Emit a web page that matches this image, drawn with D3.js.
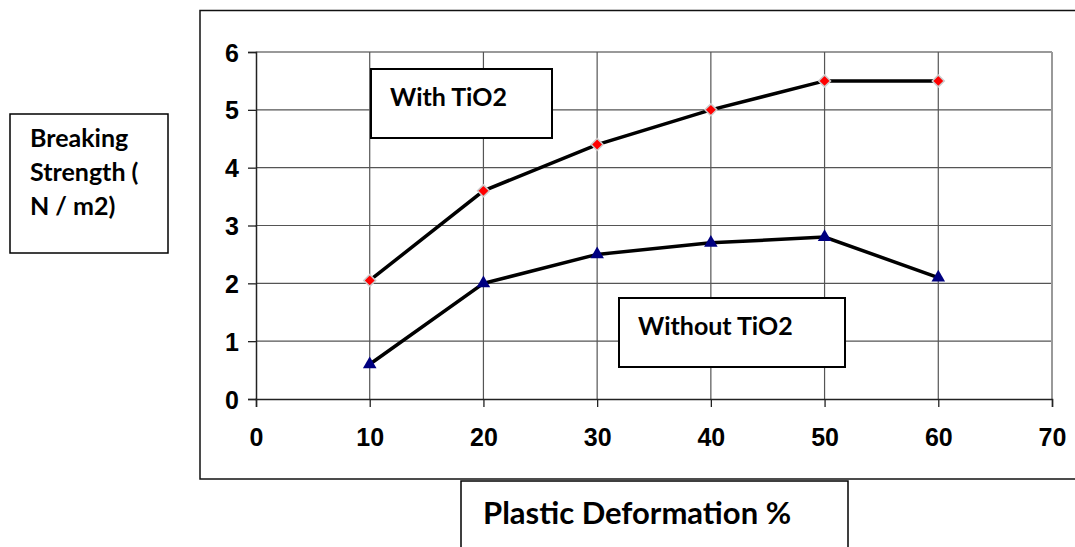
<!DOCTYPE html>
<html lang="en">
<head>
    <meta charset="UTF-8">
    <title>Breaking Strength vs Plastic Deformation</title>
    <style>
        body { margin: 0; background: #fff; }
        .tick text { font-family: "Liberation Sans", Arial, sans-serif; font-weight: bold; font-size: 25px; fill: #000; }
        .box-label { font-family: Lato, "Open Sans", sans-serif; font-weight: bold; fill: #000; }
    </style>
</head>
<body>
    <svg width="1075" height="547"></svg>

    <script src="https://d3js.org/d3.v7.min.js"></script>
    <script>
        // Data
        const xValues = [10, 20, 30, 40, 50, 60];
        const withTiO2 = [2.05, 3.6, 4.4, 5.0, 5.5, 5.5];
        const withoutTiO2 = [0.6, 2.0, 2.5, 2.7, 2.8, 2.1];
        const xTicks = [0, 10, 20, 30, 40, 50, 60, 70];
        const yTicks = [0, 1, 2, 3, 4, 5, 6];
        const withLabel = 'With TiO2';
        const withoutLabel = 'Without TiO2';
        const yLabelLines = ['Breaking', 'Strength (', 'N / m2)'];
        const xLabel = 'Plastic Deformation %';

        const svg = d3.select('svg');

        const xScale = d3.scaleLinear().domain([0, 70]).range([256, 1052]);
        const yScale = d3.scaleLinear().domain([0, 6]).range([399, 52]);

        // outer chart frame (runs off the right edge)
        svg.append('rect')
            .attr('x', 200).attr('y', 10.5)
            .attr('width', 900).attr('height', 468.5)
            .attr('fill', 'none').attr('stroke', '#111').attr('stroke-width', 1.5);

        // gridlines
        const grid = svg.append('g');
        grid.selectAll('line.h')
            .data(yTicks.filter(d => d > 0))
            .enter().append('line')
            .attr('x1', xScale(0)).attr('x2', xScale(70))
            .attr('y1', d => yScale(d)).attr('y2', d => yScale(d))
            .attr('stroke', d => d === 6 ? '#999' : '#555')
            .attr('stroke-width', d => d === 6 ? 2 : 1.2);
        grid.selectAll('line.v')
            .data(xTicks.filter(d => d > 0))
            .enter().append('line')
            .attr('y1', yScale(0)).attr('y2', yScale(6))
            .attr('x1', d => xScale(d)).attr('x2', d => xScale(d))
            .attr('stroke', d => d === 70 ? '#999' : '#555')
            .attr('stroke-width', d => d === 70 ? 2 : 1.2);

        // axes
        const yAxis = d3.axisLeft(yScale).tickValues(yTicks).tickFormat(d3.format('d')).tickSize(8).tickPadding(9);
        const xAxis = d3.axisBottom(xScale).tickValues(xTicks).tickFormat(d3.format('d')).tickSize(8).tickPadding(21);

        const yAxisG = svg.append('g').attr('transform', 'translate(' + xScale(0) + ',0)').call(yAxis);
        const xAxisG = svg.append('g').attr('transform', 'translate(0,' + yScale(0) + ')').call(xAxis);

        yAxisG.select('.domain').attr('stroke', '#222').attr('stroke-width', 1.5);
        xAxisG.select('.domain').attr('stroke', '#222').attr('stroke-width', 1.5);
        svg.selectAll('.tick line').attr('stroke', '#222').attr('stroke-width', 1.3);
        yAxisG.selectAll('.tick text').attr('dy', '0.36em');

        // label boxes inside the plot
        function labelBox(x, y, w, h, text, size, tx, ty) {
            svg.append('rect')
                .attr('x', x).attr('y', y).attr('width', w).attr('height', h)
                .attr('fill', '#fff').attr('stroke', '#000').attr('stroke-width', 2);
            svg.append('text')
                .attr('class', 'box-label')
                .attr('x', tx).attr('y', ty)
                .style('font-size', size + 'px')
                .text(text);
        }

        labelBox(371, 69, 181, 69, withLabel, 25, 390, 106);
        labelBox(619, 298, 226, 69, withoutLabel, 25, 638, 335);

        // lines
        const line = d3.line()
            .x((d, i) => xScale(xValues[i]))
            .y(d => yScale(d));

        svg.append('path')
            .datum(withTiO2)
            .attr('d', line)
            .attr('fill', 'none').attr('stroke', '#000').attr('stroke-width', 3.5);
        svg.append('path')
            .datum(withoutTiO2)
            .attr('d', line)
            .attr('fill', 'none').attr('stroke', '#000').attr('stroke-width', 3.5);

        // markers
        svg.selectAll('path.diamond')
            .data(withTiO2)
            .enter().append('path')
            .attr('class', 'diamond')
            .attr('d', d3.symbol().type(d3.symbolDiamond2).size(90))
            .attr('transform', (d, i) => 'translate(' + xScale(xValues[i]) + ',' + yScale(d) + ')')
            .attr('fill', '#ff0000').attr('stroke', '#ccc').attr('stroke-width', 1.5);

        svg.selectAll('path.tri')
            .data(withoutTiO2)
            .enter().append('path')
            .attr('class', 'tri')
            .attr('d', d3.symbol().type(d3.symbolTriangle).size(80))
            .attr('transform', (d, i) => 'translate(' + xScale(xValues[i]) + ',' + yScale(d) + ')')
            .attr('fill', '#000080');

        // y axis title box
        svg.append('rect')
            .attr('x', 10).attr('y', 114).attr('width', 158).attr('height', 139)
            .attr('fill', '#fff').attr('stroke', '#000').attr('stroke-width', 1.5);
        svg.append('text')
            .attr('class', 'box-label')
            .style('font-size', '25px')
            .selectAll('tspan')
            .data(yLabelLines)
            .enter().append('tspan')
            .attr('x', 30)
            .attr('y', (d, i) => 147 + i * 34)
            .text(d => d);

        // x axis title box (runs off the bottom)
        svg.append('rect')
            .attr('x', 461).attr('y', 481).attr('width', 387).attr('height', 90)
            .attr('fill', '#fff').attr('stroke', '#000').attr('stroke-width', 1.5);
        svg.append('text')
            .attr('class', 'box-label')
            .attr('x', 483).attr('y', 524)
            .style('font-size', '31px')
            .text(xLabel);
    </script>
</body>
</html>
